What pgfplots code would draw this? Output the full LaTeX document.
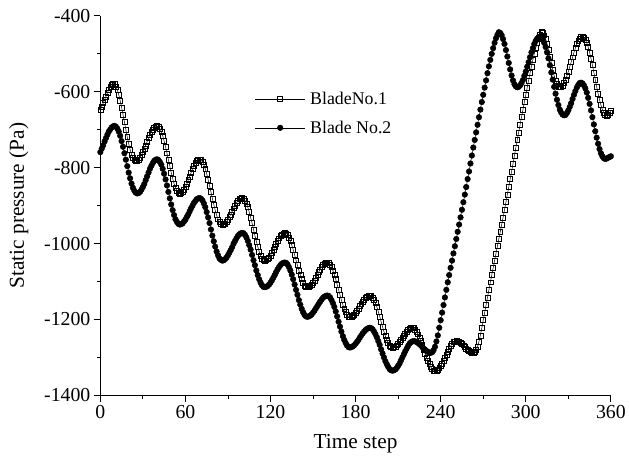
\documentclass[border=0pt]{standalone}
\usepackage{fontspec}
\setmainfont{Liberation Serif}
\usepackage{pgfplots}
\usepackage{pgfplotstable}
\pgfplotsset{compat=1.18}
\pgfplotstableread{
x b1 b2
0 -648 -759
1 -639 -750
2 -630 -741
3 -621 -731
4 -612 -722
5 -603 -713
6 -594 -705
7 -587 -699
8 -581 -694
9 -578 -691
10 -580 -690
11 -586 -692
12 -595 -697
13 -608 -705
14 -623 -716
15 -641 -730
16 -660 -745
17 -680 -762
18 -700 -779
19 -719 -796
20 -737 -813
21 -752 -828
22 -765 -842
23 -774 -853
24 -780 -861
25 -782 -866
26 -781 -868
27 -778 -867
28 -773 -864
29 -767 -858
30 -759 -851
31 -750 -843
32 -741 -833
33 -731 -823
34 -722 -813
35 -713 -803
36 -705 -795
37 -699 -788
38 -694 -782
39 -691 -779
40 -690 -778
41 -692 -780
42 -697 -785
43 -705 -792
44 -716 -803
45 -730 -816
46 -745 -831
47 -762 -847
48 -779 -864
49 -796 -881
50 -813 -897
51 -828 -912
52 -842 -925
53 -853 -936
54 -861 -943
55 -866 -948
56 -868 -950
57 -867 -949
58 -864 -947
59 -858 -942
60 -851 -937
61 -843 -930
62 -833 -923
63 -823 -915
64 -813 -907
65 -803 -900
66 -795 -893
67 -788 -888
68 -782 -883
69 -779 -881
70 -778 -880
71 -780 -882
72 -785 -886
73 -792 -894
74 -803 -904
75 -816 -917
76 -831 -931
77 -847 -946
78 -864 -963
79 -881 -979
80 -897 -994
81 -912 -1008
82 -925 -1021
83 -936 -1031
84 -943 -1039
85 -948 -1043
86 -950 -1045
87 -949 -1044
88 -947 -1041
89 -942 -1037
90 -937 -1031
91 -930 -1024
92 -923 -1017
93 -915 -1009
94 -907 -1000
95 -900 -993
96 -893 -986
97 -888 -980
98 -883 -976
99 -881 -973
100 -880 -972
101 -882 -973
102 -886 -977
103 -894 -984
104 -904 -993
105 -917 -1004
106 -931 -1016
107 -946 -1030
108 -963 -1044
109 -979 -1057
110 -994 -1071
111 -1008 -1083
112 -1021 -1094
113 -1031 -1103
114 -1039 -1110
115 -1043 -1114
116 -1045 -1115
117 -1044 -1114
118 -1041 -1112
119 -1037 -1108
120 -1031 -1103
121 -1024 -1097
122 -1017 -1090
123 -1009 -1083
124 -1000 -1075
125 -993 -1068
126 -986 -1062
127 -980 -1057
128 -976 -1053
129 -973 -1051
130 -972 -1050
131 -973 -1051
132 -977 -1055
133 -984 -1062
134 -993 -1071
135 -1004 -1082
136 -1016 -1094
137 -1030 -1108
138 -1044 -1122
139 -1057 -1135
140 -1071 -1149
141 -1083 -1161
142 -1094 -1172
143 -1103 -1181
144 -1110 -1188
145 -1114 -1192
146 -1115 -1193
147 -1114 -1192
148 -1112 -1190
149 -1108 -1187
150 -1103 -1182
151 -1097 -1177
152 -1090 -1171
153 -1083 -1165
154 -1075 -1159
155 -1068 -1153
156 -1062 -1148
157 -1057 -1143
158 -1053 -1140
159 -1051 -1138
160 -1050 -1137
161 -1051 -1138
162 -1055 -1142
163 -1062 -1149
164 -1071 -1157
165 -1082 -1167
166 -1094 -1179
167 -1108 -1192
168 -1122 -1206
169 -1135 -1219
170 -1149 -1232
171 -1161 -1244
172 -1172 -1254
173 -1181 -1262
174 -1188 -1269
175 -1192 -1273
176 -1193 -1274
177 -1192 -1273
178 -1190 -1271
179 -1187 -1268
180 -1182 -1264
181 -1177 -1259
182 -1171 -1254
183 -1165 -1248
184 -1159 -1242
185 -1153 -1237
186 -1148 -1232
187 -1143 -1228
188 -1140 -1225
189 -1138 -1223
190 -1137 -1222
191 -1138 -1223
192 -1142 -1226
193 -1149 -1232
194 -1157 -1239
195 -1167 -1247
196 -1179 -1257
197 -1192 -1267
198 -1206 -1279
199 -1219 -1290
200 -1232 -1300
201 -1244 -1310
202 -1254 -1318
203 -1262 -1325
204 -1269 -1331
205 -1273 -1334
206 -1274 -1335
207 -1273 -1334
208 -1271 -1332
209 -1268 -1328
210 -1264 -1322
211 -1259 -1316
212 -1254 -1308
213 -1248 -1300
214 -1242 -1292
215 -1237 -1284
216 -1232 -1277
217 -1228 -1270
218 -1225 -1264
219 -1223 -1260
220 -1222 -1258
221 -1223 -1257
222 -1226 -1258
223 -1232 -1259
224 -1239 -1262
225 -1247 -1265
226 -1257 -1268
227 -1267 -1273
228 -1279 -1277
229 -1290 -1280
230 -1300 -1283
231 -1310 -1286
232 -1318 -1287
233 -1325 -1288
234 -1331 -1286
235 -1334 -1281
236 -1335 -1272
237 -1334 -1258
238 -1332 -1242
239 -1328 -1222
240 -1322 -1202
241 -1316 -1182
242 -1308 -1162
243 -1300 -1142
244 -1292 -1122
245 -1284 -1102
246 -1277 -1083
247 -1270 -1064
248 -1264 -1045
249 -1260 -1026
250 -1258 -1007
251 -1257 -988
252 -1258 -969
253 -1259 -950
254 -1262 -931
255 -1265 -911
256 -1268 -891
257 -1273 -871
258 -1277 -851
259 -1280 -830
260 -1283 -810
261 -1286 -789
262 -1287 -768
263 -1288 -747
264 -1286 -727
265 -1281 -707
266 -1272 -687
267 -1258 -667
268 -1242 -647
269 -1222 -627
270 -1202 -608
271 -1182 -589
272 -1162 -570
273 -1142 -551
274 -1122 -533
275 -1102 -516
276 -1083 -500
277 -1064 -485
278 -1045 -471
279 -1026 -459
280 -1007 -450
281 -988 -443
282 -969 -445
283 -950 -451
284 -931 -461
285 -911 -474
286 -891 -490
287 -871 -507
288 -851 -524
289 -830 -541
290 -810 -557
291 -789 -570
292 -768 -580
293 -747 -586
294 -727 -588
295 -707 -587
296 -687 -583
297 -667 -577
298 -647 -569
299 -627 -558
300 -608 -547
301 -589 -534
302 -570 -522
303 -551 -509
304 -533 -496
305 -516 -485
306 -500 -474
307 -485 -466
308 -471 -460
309 -459 -456
310 -450 -455
311 -443 -457
312 -445 -462
313 -451 -471
314 -461 -482
315 -474 -496
316 -490 -512
317 -507 -530
318 -524 -549
319 -541 -568
320 -557 -587
321 -570 -605
322 -580 -621
323 -586 -635
324 -588 -647
325 -587 -655
326 -583 -660
327 -577 -662
328 -569 -661
329 -558 -656
330 -547 -649
331 -534 -640
332 -522 -630
333 -509 -619
334 -496 -608
335 -485 -598
336 -474 -589
337 -466 -582
338 -460 -577
339 -456 -576
340 -455 -578
341 -457 -583
342 -462 -591
343 -471 -602
344 -482 -616
345 -496 -632
346 -512 -649
347 -530 -667
348 -549 -686
349 -568 -704
350 -587 -721
351 -605 -737
352 -621 -751
353 -635 -762
354 -647 -770
355 -655 -775
356 -660 -777
357 -662 -776
358 -661 -774
359 -656 -772
360 -649 -770
}\data
\begin{document}
\begin{tikzpicture}
\begin{axis}[
  name=ax,
  scale only axis,
  width=514bp, height=382bp,
  xmin=0, xmax=360, ymin=-1400, ymax=-400,
  axis x line*=bottom, axis y line*=left,
  axis line style={-, line width=0.8bp},
  xtick={0,60,...,360}, ytick={-1400,-1200,...,-400},
  minor x tick num=1, minor y tick num=1,
  tick align=outside,
  major tick length=6.5bp, minor tick length=3.5bp,
  tick style={line width=0.8bp, black},
  /pgf/number format/assume math mode=true,
  /pgf/number format/1000 sep={},
  ticklabel style={font=\fontsize{20}{24}\selectfont},
  label style={font=\fontsize{21.5}{25}\selectfont},
  xlabel={Time step},
  ylabel={Static pressure (Pa)},
  xlabel style={at={([yshift=-54bp]axis description cs:0.5,0)}, anchor=base},
  ylabel style={at={([xshift=-77bp]axis description cs:0,0.5)}, anchor=base},
  legend style={at={(0.297,0.81)}, anchor=north west, draw=none, fill=none,
    font=\fontsize{18}{21}\selectfont, row sep=11bp},
  legend cell align=left,
  reverse legend,
  legend image code/.code={\path (-30bp,0bp) (23bp,0bp);\draw[mark repeat=2,mark phase=2,#1] plot coordinates {(-30bp,0bp)(-5bp,0bp)(20bp,0bp)};},
]
\addplot[black, line width=0.5bp, mark=*, mark size=2.8bp, mark options={fill=black}] table[x=x, y=b2] {\data};
\addlegendentry{Blade No.2}
\addplot[black, line width=0.5bp, mark=square, mark size=2.5bp, mark options={fill=white, line width=0.5bp}] table[x=x, y=b1] {\data};
\addlegendentry{BladeNo.1}
\end{axis}
\path ([xshift=-101bp,yshift=-62bp]ax.south west) rectangle ([xshift=14bp,yshift=16bp]ax.north east);
\end{tikzpicture}
\end{document}
